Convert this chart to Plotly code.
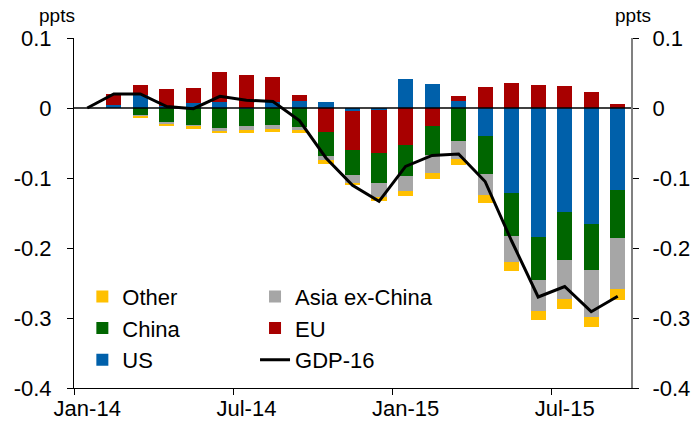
import plotly.graph_objects as go

months = ["Jan-14", "Feb-14", "Mar-14", "Apr-14", "May-14", "Jun-14", "Jul-14",
          "Aug-14", "Sep-14", "Oct-14", "Nov-14", "Dec-14", "Jan-15", "Feb-15",
          "Mar-15", "Apr-15", "May-15", "Jun-15", "Jul-15", "Aug-15", "Sep-15"]
us = [0, 0.0047, 0.018, 0.003, 0.0076, 0.008, -0.002, 0.0086, 0.0094, 0.0086,
      -0.0048, -0.0024, 0.0419, 0.0343, 0.0094, -0.0396, -0.1214, -0.1843,
      -0.1481, -0.1653, -0.1167]
eu = [0, 0.0153, 0.015, 0.024, 0.0204, 0.0439, 0.047, 0.036, 0.0086, -0.034,
      -0.0548, -0.0619, -0.0524, -0.0253, 0.0082, 0.0304, 0.0357, 0.0333,
      0.0319, 0.0233, 0.0061]
china = [0, 0, -0.0105, -0.0205, -0.0243, -0.0281, -0.024, -0.024, -0.027,
         -0.0348, -0.0357, -0.0429, -0.0443, -0.0424, -0.0467, -0.0543,
         -0.061, -0.0619, -0.069, -0.0667, -0.0686]
asia = [0, 0, -0.0022, -0.003, -0.002, -0.005, -0.006, -0.006, -0.005, -0.0057,
        -0.0114, -0.0205, -0.0214, -0.0252, -0.0257, -0.031, -0.0381, -0.0443,
        -0.0553, -0.0671, -0.0729]
other = [0, 0, -0.0019, -0.0025, -0.003, -0.0025, -0.0033, -0.004, -0.0033,
         -0.0048, -0.0038, -0.0057, -0.0081, -0.0086, -0.0095, -0.011, -0.0129,
         -0.0129, -0.0148, -0.0143, -0.0167]
gdp16 = [0, 0.02, 0.02, 0.002, -0.001, 0.0166, 0.011, 0.0094, -0.018, -0.0714,
         -0.1105, -0.1334, -0.0834, -0.0677, -0.0657, -0.105, -0.19, -0.27,
         -0.255, -0.291, -0.269]

tick_labels = ["Jan-14", "Jul-14", "Jan-15", "Jul-15"]
y_ticks = [0.1, 0, -0.1, -0.2, -0.3, -0.4]
y_tick_text = ["0.1", "0", "-0.1", "-0.2", "-0.3", "-0.4"]

tick_idx = [months.index(t) for t in tick_labels]
x = list(range(len(months)))

FONT = "Liberation Sans, Arial, sans-serif"
FS = 22
series = [
    ("US", us, "#0060AA", "legend", 3),
    ("EU", eu, "#A80000", "legend2", 2),
    ("China", china, "#006600", "legend", 2),
    ("Asia ex-China", asia, "#A6A6A6", "legend2", 1),
    ("Other", other, "#FFC000", "legend", 1),
]

fig = go.Figure()
for name, vals, col, leg, rank in series:
    fig.add_trace(go.Bar(x=x, y=vals, name=name, marker_color=col,
                         marker_line_width=0, width=0.57, legend=leg,
                         legendrank=rank, legendgroup=name,
                         customdata=months,
                         hovertemplate="%{customdata}: %{y}<extra>" + name + "</extra>"))
fig.add_trace(go.Scatter(x=x, y=gdp16, name="GDP-16", mode="lines",
                         line=dict(color="black", width=3), legend="legend2",
                         legendrank=3, legendgroup="GDP-16", yaxis="y2"))

yr = [-0.4, 0.1]
fig.update_layout(
    width=693, height=426,
    margin=dict(l=74, r=62, t=38, b=37.5, autoexpand=False),
    barmode="relative",
    bargap=0,
    plot_bgcolor="white", paper_bgcolor="white",
    font=dict(family=FONT, size=FS, color="black"),
    xaxis=dict(range=[-0.5, len(months) - 0.5], tickmode="array",
               tickvals=tick_idx, ticktext=tick_labels, ticks="",
               showline=True, linecolor="black", linewidth=1,
               showgrid=False, zeroline=False, automargin=False,
               tickfont=dict(size=FS), ticklabelstandoff=1,
               minor=dict(tickmode="array",
                          tickvals=[i - 0.5 for i in tick_idx],
                          ticks="outside", ticklen=6, tickcolor="black",
                          showgrid=False)),
    yaxis=dict(range=yr, tickmode="array", tickvals=y_ticks,
               ticktext=y_tick_text,
               ticks="outside", ticklen=6, tickcolor="black",
               showline=True, linecolor="black", linewidth=1,
               showgrid=False, zeroline=False, ticklabelstandoff=11,
               automargin=False, tickfont=dict(size=FS)),
    yaxis2=dict(range=yr, overlaying="y", side="right", tickmode="array",
                tickvals=y_ticks, ticktext=y_tick_text,
                ticks="outside", ticklen=6, tickcolor="black",
                showline=True, linecolor="#808080", linewidth=2,
                showgrid=False, zeroline=False, ticklabelstandoff=9,
                automargin=False, tickfont=dict(size=FS)),
    legend=dict(x=0.015, y=0.321, xanchor="left", yanchor="top",
                bgcolor="rgba(0,0,0,0)", font=dict(size=FS),
                tracegroupgap=0, itemwidth=30),
    legend2=dict(x=0.325, y=0.321, xanchor="left", yanchor="top",
                 bgcolor="rgba(0,0,0,0)", font=dict(size=FS),
                 tracegroupgap=0, itemwidth=30),
    showlegend=True,
    shapes=[dict(type="line", xref="paper", x0=0, x1=1, yref="y", y0=0, y1=0,
                 line=dict(color="black", width=1.5), layer="above")],
    annotations=[
        dict(text="ppts", xref="paper", yref="paper", x=-0.031, y=1.0,
             xanchor="center", yanchor="bottom", yshift=10, showarrow=False,
             font=dict(size=19)),
        dict(text="ppts", xref="paper", yref="paper", x=1.004, y=1.0,
             xanchor="center", yanchor="bottom", yshift=10, showarrow=False,
             font=dict(size=19)),
    ],
)

fig.write_html("out.html", config={"displayModeBar": False},
               post_script="document.body.style.margin='0';"
                           "document.body.style.padding='0';")
